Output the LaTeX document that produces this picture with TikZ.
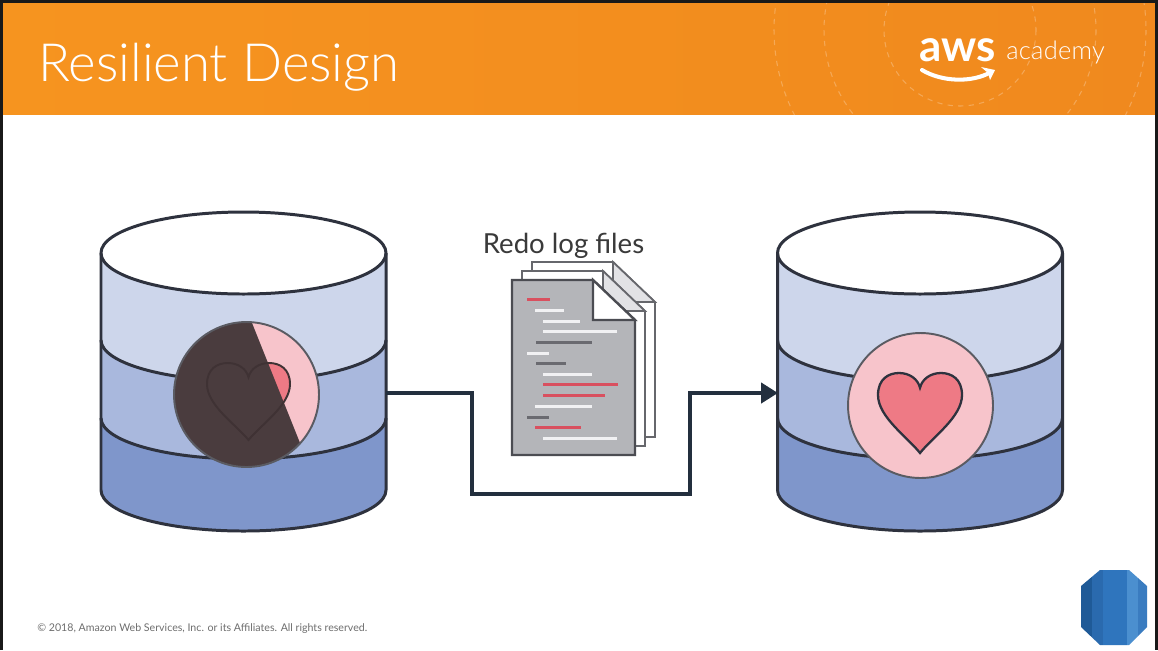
\documentclass[tikz,border=0pt]{standalone}
\usepackage{fontspec}
\setmainfont{Lato}
\newfontfamily\lightface{Lato Light}
\usetikzlibrary{arrows.meta}

\definecolor{awsorange}{HTML}{F6941F}
\definecolor{awsorangeR}{HTML}{F0891E}
\definecolor{ink}{HTML}{2E323E}
\definecolor{bandA}{HTML}{CDD6EB}
\definecolor{bandB}{HTML}{A9B8DD}
\definecolor{bandC}{HTML}{7F96CB}
\definecolor{flowink}{HTML}{232F3E}
\definecolor{badgepink}{HTML}{F7C4CB}
\definecolor{badgering}{HTML}{5A5B62}
\definecolor{heartred}{HTML}{EE7A85}
\definecolor{darkhalf}{HTML}{4A3C3E}
\definecolor{darkhalfline}{HTML}{3F3234}
\definecolor{sheetgrey}{HTML}{B4B5B9}
\definecolor{sheetedge}{HTML}{4B4C52}
\definecolor{foldgrey}{HTML}{E2E2E5}
\definecolor{linered}{HTML}{D9505F}
\definecolor{linewhite}{HTML}{F1F1F3}
\definecolor{linedark}{HTML}{6A6A70}
\definecolor{footgrey}{HTML}{6E6E6E}
\definecolor{captiongrey}{HTML}{3A3A3A}
\definecolor{rdsA}{HTML}{1F5A97}
\definecolor{rdsB}{HTML}{2A6AAE}
\definecolor{rdsC}{HTML}{2F75BD}
\definecolor{rdsD}{HTML}{4B8FCF}
\definecolor{rdsE}{HTML}{3A7CC0}

\tikzset{
  dbline/.style={draw=ink, line width=1.7pt, line join=round},
  flow/.style={draw=flowink, line width=2.8pt, line join=miter,
    -{Triangle[length=9.6pt,width=11.3pt]}},
  badgedisc/.style={circle, draw=badgering, line width=1.1pt, inner sep=0pt,
    minimum size=2.9cm},
  halo/.style={draw=white, draw opacity=0.25, line width=0.6pt,
    dash pattern=on 3pt off 3pt},
  txtline/.style={line width=1.7pt},
  heartglyph/.pic={
    \path[pic actions] (0,-1) .. controls (-0.3,-0.6) and (-1,-0.1) .. (-1,0.45)
      .. controls (-1,0.85) and (-0.75,1) .. (-0.5,1)
      .. controls (-0.25,1) and (-0.05,0.85) .. (0,0.63)
      .. controls (0.05,0.85) and (0.25,1) .. (0.5,1)
      .. controls (0.75,1) and (1,0.85) .. (1,0.45)
      .. controls (1,-0.1) and (0.3,-0.6) .. (0,-1) -- cycle;
  },
  logsheet/.pic={
    \path[pic actions] (0,0) -- (81,0) -- (123,40) -- (123,175) -- (0,175) -- cycle;
  },
  logfold/.pic={
    \path[pic actions] (81,0) -- (81,40) -- (123,40) -- cycle;
  }
}

% a three-band database cylinder centred on x = #1
\newcommand\dbcylinder[1]{%
  \begin{scope}[shift={(#1,0)}]
    \fill[bandC] (-142.5,253) -- (-142.5,490)
      arc[start angle=180,end angle=0,x radius=142.5,y radius=41] -- (142.5,253) -- cycle;
    \fill[bandB] (-142.5,253) -- (-142.5,418)
      arc[start angle=180,end angle=0,x radius=142.5,y radius=41] -- (142.5,253) -- cycle;
    \fill[bandA] (-142.5,253) -- (-142.5,340)
      arc[start angle=180,end angle=0,x radius=142.5,y radius=41] -- (142.5,253) -- cycle;
    \draw[dbline] (-142.5,340) arc[start angle=180,end angle=0,x radius=142.5,y radius=41];
    \draw[dbline] (-142.5,418) arc[start angle=180,end angle=0,x radius=142.5,y radius=41];
    \draw[dbline, fill=white] (0,253) ellipse[x radius=142.5, y radius=41];
    \draw[dbline] (-142.5,253) -- (-142.5,490)
      arc[start angle=180,end angle=0,x radius=142.5,y radius=41] -- (142.5,253);
  \end{scope}}

\begin{document}
\begin{tikzpicture}[x=0.02cm,y=-0.02cm]
  \useasboundingbox (0,0) rectangle (1158,650);
  \fill[white] (0,0) rectangle (1158,650);

  % header bar
  \shade[left color=awsorange, right color=awsorangeR] (3,3) rectangle (1155,114);
  \begin{scope}
    \clip (3,3) rectangle (1155,114);
    \draw[halo] (960,30) circle[radius=76];
    \draw[halo] (960,30) circle[radius=136];
    \draw[halo] (960,30) circle[radius=186];
  \end{scope}
  \node[anchor=base west, inner sep=0pt, text=white,
        font=\fontsize{30}{32}\lightface] (title) at (38,81) {Resilient Design};

  % aws academy mark
  \node[anchor=base west, inner sep=0pt, text=white,
        font=\fontsize{25}{28}\selectfont\bfseries] (aws) at (919,61) {aws};
  \node[anchor=base west, inner sep=0pt, text=white,
        font=\fontsize{14.5}{16}\lightface\addfontfeature{LetterSpace=1}] (academy) at (1006,59) {academy};
  \draw[white, line width=2.3pt, line cap=round]
    (922,70) .. controls (942,82) and (972,83) .. (991,72);
  \fill[white] (981,67) -- (995,70) -- (990,80) -- (988,73) -- cycle;

  % outer frame
  \draw[black!90, line width=1.8pt] (1.5,650) -- (1.5,1.5) -- (1156.5,1.5) -- (1156.5,650);

  % databases
  \dbcylinder{243.5}
  \dbcylinder{920}

  % failing badge on the primary database
  \begin{scope}
    \clip (246.5,394.5) circle[radius=72];
    \fill[badgepink] (150,300) rectangle (350,490);
    \pic[fill=heartred, xscale=41.5, yscale=-38.5] at (248.5,401.5) {heartglyph};
    \fill[darkhalf] (228,263) -- (324,503) -- (150,503) -- (150,263) -- cycle;
    \pic[draw=darkhalfline, line width=1.1pt, xscale=41.5, yscale=-38.5] at (248.5,401.5) {heartglyph};
  \end{scope}
  \node[badgedisc] (badgeL) at (246.5,394.5) {};

  % healthy badge on the standby database
  \node[badgedisc, fill=badgepink] (badgeR) at (920.5,405.5) {};
  \pic[fill=heartred, draw=ink, line width=1.3pt, xscale=42, yscale=-40] at (920,413) {heartglyph};

  % replication path
  \coordinate (dbL-east) at (386,393);
  \coordinate (dbR-west) at (778,393);
  \draw[flow] (dbL-east) -| (472,494) -| (690,393) -- (dbR-west);

  % stacked redo log files
  \node[anchor=base, inner sep=0pt, text=captiongrey,
        font=\fontsize{15.7}{18}\selectfont] (caption) at (563.5,253) {Redo log files};
  \pic[fill=white, draw=sheetedge!85, line width=1pt] at (532,262) {logsheet};
  \pic[fill=foldgrey, draw=sheetedge!85, line width=1pt] at (532,262) {logfold};
  \pic[fill=white, draw=sheetedge!85, line width=1pt] at (522,271) {logsheet};
  \pic[fill=foldgrey, draw=sheetedge!85, line width=1pt] at (522,271) {logfold};
  \pic[fill=sheetgrey, draw=sheetedge, line width=1.3pt] at (512,280) {logsheet};
  \pic[fill=white, draw=sheetedge, line width=1.3pt] at (512,280) {logfold};
  \draw[txtline, linered]   (527,299) -- (550,299);
  \draw[txtline, linewhite] (535,310) -- (564,310);
  \draw[txtline, linewhite] (543,321) -- (580,321);
  \draw[txtline, linewhite] (543,331) -- (617,331);
  \draw[txtline, linedark]  (536,342) -- (592,342);
  \draw[txtline, linewhite] (527,353) -- (549,353);
  \draw[txtline, linedark]  (536,363) -- (566,363);
  \draw[txtline, linewhite] (543,374) -- (592,374);
  \draw[txtline, linered]   (543,384) -- (618,384);
  \draw[txtline, linered]   (543,395) -- (605,395);
  \draw[txtline, linewhite] (535,406) -- (592,406);
  \draw[txtline, linedark]  (527,417) -- (549,417);
  \draw[txtline, linered]   (535,427) -- (581,427);
  \draw[txtline, linewhite] (543,438) -- (617,438);

  % footer
  \node[anchor=base west, inner sep=0pt, text=footgrey,
        font=\fontsize{6.05}{7}\selectfont] (copyright) at (37,631)
    {© 2018, Amazon Web Services, Inc. or its Affiliates. All rights reserved.};

  % database service icon
  \begin{scope}
    \clip (1100,570) -- (1129,570) -- (1147,586) -- (1147,627) -- (1129,645)
      -- (1100,645) -- (1081,627) -- (1081,586) -- cycle;
    \fill[rdsA] (1080,568) rectangle (1092,647);
    \fill[rdsB] (1092,568) rectangle (1103,647);
    \fill[rdsC] (1103,568) rectangle (1127,647);
    \fill[rdsD] (1127,568) rectangle (1138,647);
    \fill[rdsE] (1138,568) rectangle (1148,647);
  \end{scope}
  \node[inner sep=0pt, minimum width=1.34cm, minimum height=1.5cm] (rdsicon) at (1114,607.5) {};
\end{tikzpicture}
\end{document}
